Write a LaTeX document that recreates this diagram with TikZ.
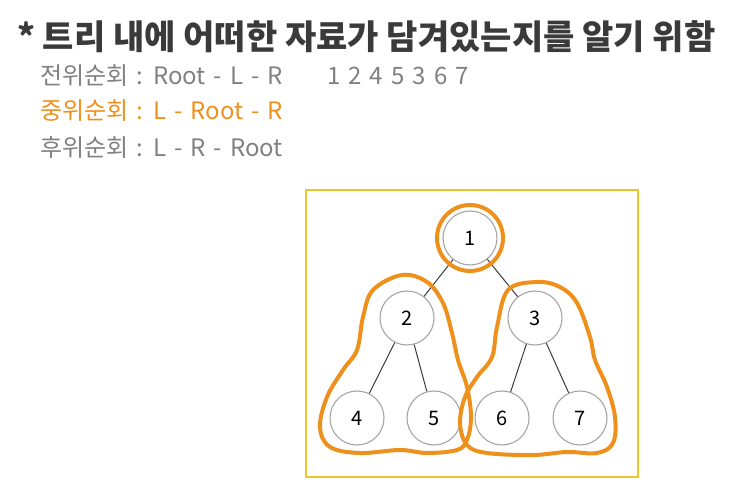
\documentclass[tikz,border=0pt]{standalone}
\usepackage{fontspec}
\setmainfont{Noto Sans CJK KR}
\newfontfamily\linefont[WordSpace=1.5]{Noto Sans CJK KR}
\definecolor{trorange}{RGB}{238,144,28}
\definecolor{trgold}{RGB}{242,196,44}
\definecolor{trgray}{RGB}{128,128,128}
\definecolor{trdark}{RGB}{58,58,58}
\definecolor{vertgray}{RGB}{165,165,165}
\tikzset{
  vert/.style={circle, draw=vertgray, line width=1.1pt, minimum size=54pt,
    inner sep=0pt, font=\fontsize{20}{20}\selectfont},
  blob/.style={draw=trorange, line width=4pt, line join=round},
  line/.style={text=trgray, anchor=base west, inner sep=0pt,
    font=\fontsize{24}{24}\linefont},
}
\begin{document}
\begin{tikzpicture}[x=1pt, y=-1pt]
    \useasboundingbox (0,0) rectangle (753,497);
    % text
    \node (T) [anchor=base west, inner sep=0pt, text=trdark,
      font=\fontsize{34}{34}\selectfont\bfseries] at (17,50)
      {* 트리 내에 어떠한 자료가 담겨있는지를 알기 위함};
    \node (L1) [line] at (40,85) {전위순회 : Root - L - R};
    \node (N1) [line] at (327,85) {1 2 4 5 3 6 7};
    \node (L2) [line, text=trorange] at (40,120) {중위순회 : L - Root - R};
    \node (L3) [line] at (40,157) {후위순회 : L - R - Root};
    % frame
    \draw [trgold, line width=2pt] (306,190) rectangle (638,477);
    % tree
    \node (A0_0) [vert] at (470,238) {1};
    \node (A1_0) [vert] at (407,318) {2};
    \node (A1_1) [vert] at (535,318) {3};
    \node (A2_0) [vert] at (357,418) {4};
    \node (A2_1) [vert] at (434,418) {5};
    \node (A2_2) [vert] at (502,418) {6};
    \node (A2_3) [vert] at (580,418) {7};
    \path [draw, line width=1pt, trdark] (A0_0) edge (A1_0) edge (A1_1);
    \path [draw, line width=1pt, trdark] (A1_0) edge (A2_0) edge (A2_1);
    \path [draw, line width=1pt, trdark] (A1_1) edge (A2_2) edge (A2_3);
    % traversal groups
    \draw [blob] (A0_0) circle (33);
    \draw [blob] plot [smooth cycle, tension=0.6] coordinates {
      (402,275) (427,282) (443,303) (452,333) (458,360) (467,387)
      (471,417) (467,440) (457,450) (427,453) (400,450) (360,453)
      (330,447) (320,427) (327,397) (343,370) (357,350) (363,317)
      (373,290)};
    \draw [blob] plot [smooth cycle, tension=0.6] coordinates {
      (537,282) (560,287) (577,303) (590,337) (595,360) (607,387)
      (615,417) (613,443) (597,453) (567,452) (533,455) (487,453)
      (467,445) (460,423) (465,397) (477,377) (492,357) (497,327)
      (508,290)};
\end{tikzpicture}
\end{document}
